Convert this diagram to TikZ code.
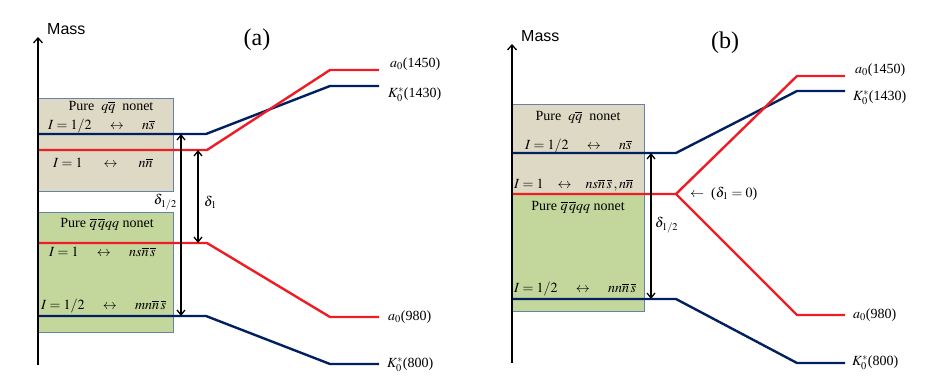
\documentclass[tikz,border=0pt]{standalone}
\usepackage{amsmath}
\usepackage{mathptmx}
\usepackage{fontspec}
\setmainfont{Liberation Serif}
\setsansfont{Liberation Sans}
\usetikzlibrary{positioning, arrows.meta}
\definecolor{navy}{RGB}{0,32,96}
\definecolor{redline}{RGB}{238,28,36}
\definecolor{tan}{RGB}{221,217,196}
\definecolor{leaf}{RGB}{195,214,155}
\definecolor{boxline}{RGB}{100,130,170}
\tikzset{
  qqbox/.style = {fill=tan},
  tetrabox/.style = {fill=leaf},
  frame/.style = {draw=boxline, line width=0.9pt},
  kline/.style = {draw=navy, line width=2.4pt},
  aline/.style = {draw=redline, line width=2.4pt},
  axis/.style = {draw, line width=1.3pt, -{Straight Barb[length=5pt,width=9pt]}},
  gap/.style = {draw, line width=1.3pt, {Straight Barb[length=5pt,width=8pt]}-{Straight Barb[length=5pt,width=8pt]}},
  txt/.style = {font=\fontsize{14}{16}\selectfont, inner sep=0pt},
  lbl/.style = {txt, anchor=west},
  mass/.style = {font=\sffamily\fontsize{16}{18}\selectfont, anchor=west, inner sep=0pt},
  panel/.style = {font=\fontsize{24}{26}\selectfont, inner sep=0pt}
}
\newcommand{\lr}{\hspace{1.3em}$\leftrightarrow$\hspace{1.3em}}
\begin{document}
\begin{tikzpicture}[x=1pt, y=-1pt]
  \useasboundingbox (0,0) rectangle (926,388);

  % ---------------- panel (a)
  \fill[qqbox] (38,98) rectangle (173,191);
  \fill[tetrabox] (38,212) rectangle (173,332);
  \draw[frame] (38,98) rectangle (173,191);
  \draw[frame] (38,212) rectangle (173,332);

  \node[txt] (a-pq) at (111,107) {Pure\ \ $q\overline{q}$\ \ nonet};
  \node[lbl] (a-kq) at (48,126) {$I=1/2$\lr$n\overline{s}$};
  \node[lbl] (a-aq) at (53,163) {$I=1$\hspace{1.5em}$\leftrightarrow$\hspace{1.5em}$n\overline{n}$};
  \node[txt] (a-pt) at (107,224) {Pure $\overline{q}\,\overline{q}qq$ nonet};
  \node[lbl] (a-at) at (49,252) {$I=1$\lr$ns\overline{n}\,\overline{s}$};
  \node[lbl] (a-kt) at (41,306) {$I=1/2$\lr$mn\overline{n}\,\overline{s}$};

  \coordinate (ka0) at (38,134);  \coordinate (ka1) at (206,134);
  \coordinate (ka2) at (330,86);  \coordinate (ka3) at (379,86);
  \coordinate (aa0) at (38,150);  \coordinate (aa1) at (207,150);
  \coordinate (aa2) at (330,70);  \coordinate (aa3) at (379,70);
  \coordinate (ab0) at (38,243);  \coordinate (ab1) at (207,243);
  \coordinate (ab2) at (330,317); \coordinate (ab3) at (379,317);
  \coordinate (kb0) at (38,316);  \coordinate (kb1) at (206,316);
  \coordinate (kb2) at (330,364); \coordinate (kb3) at (379,364);

  \draw[kline] (ka0) -- (ka1) -- (ka2) -- (ka3);
  \draw[aline] (aa0) -- (aa1) -- (aa2) -- (aa3);
  \draw[aline] (ab0) -- (ab1) -- (ab2) -- (ab3);
  \draw[kline] (kb0) -- (kb1) -- (kb2) -- (kb3);

  \coordinate (da0) at (181,134); \coordinate (da1) at (181,316);
  \coordinate (db0) at (198,150); \coordinate (db1) at (198,243);
  \draw[gap] (da0) -- (da1);
  \draw[gap] (db0) -- (db1);
  \node[txt, anchor=east] (a-dh) at (177,202) {$\delta_{1/2}$};
  \node[txt, anchor=west] (a-d1) at (204,202) {$\delta_{1}$};

  \node[lbl] (a-a1450) at (390,64) {$a_0$(1450)};
  \node[lbl] (a-k1430) at (388,95) {$K_0^*$(1430)};
  \node[lbl] (a-a980) at (388,317) {$a_0$(980)};
  \node[lbl] (a-k800) at (387,365) {$K_0^*$(800)};

  \coordinate (axa0) at (38,365); \coordinate (axa1) at (38,37);
  \draw[axis] (axa0) -- (axa1);
  \node[mass] (a-mass) at (47,29) {Mass};
  \node[panel] (a-tag) at (257,40) {(a)};

  % ---------------- panel (b)
  \fill[qqbox] (512,104) rectangle (644,194);
  \fill[tetrabox] (512,194) rectangle (644,311);
  \draw[frame] (512,104) rectangle (644,311);

  \node[txt] (b-pq) at (578,117) {Pure\ \ $q\overline{q}$\ \ nonet};
  \node[lbl] (b-kq) at (525,146) {$I=1/2$\lr$n\overline{s}$};
  \node[lbl] (b-aq) at (514,185) {$I=1$\hspace{1em}$\leftrightarrow$\hspace{1em}$ns\overline{n}\,\overline{s}\,,n\overline{n}$};
  \node[txt] (b-pt) at (578,207) {Pure $\overline{q}\,\overline{q}qq$ nonet};
  \node[lbl] (b-kt) at (514,289) {$I=1/2$\lr$nn\overline{n}\,\overline{s}$};

  \coordinate (kc0) at (512,153); \coordinate (kc1) at (676,153);
  \coordinate (kc2) at (797,91);  \coordinate (kc3) at (845,91);
  \coordinate (ac0) at (512,194); \coordinate (ac1) at (676,194);
  \coordinate (ac2) at (797,76);  \coordinate (ac3) at (845,76);
  \coordinate (ad2) at (797,315); \coordinate (ad3) at (845,315);
  \coordinate (kd0) at (512,299); \coordinate (kd1) at (676,299);
  \coordinate (kd2) at (797,363); \coordinate (kd3) at (845,363);

  \draw[kline] (kc0) -- (kc1) -- (kc2) -- (kc3);
  \draw[aline] (ac0) -- (ac1) -- (ac2) -- (ac3);
  \draw[aline] (ac1) -- (ad2) -- (ad3);
  \draw[kline] (kd0) -- (kd1) -- (kd2) -- (kd3);

  \coordinate (dc0) at (651,153); \coordinate (dc1) at (651,299);
  \draw[gap] (dc0) -- (dc1);
  \node[txt, anchor=west] (b-dh) at (655,225) {$\delta_{1/2}$};
  \node[lbl] (b-d1) at (690,194) {$\leftarrow$\ \ ($\delta_1=0$)};

  \node[lbl] (b-a1450) at (855,70) {$a_0$(1450)};
  \node[lbl] (b-k1430) at (853,98) {$K_0^*$(1430)};
  \node[lbl] (b-a980) at (853,315) {$a_0$(980)};
  \node[lbl] (b-k800) at (852,363) {$K_0^*$(800)};

  \coordinate (axb0) at (512,363); \coordinate (axb1) at (512,44);
  \draw[axis] (axb0) -- (axb1);
  \node[mass] (b-mass) at (521,36) {Mass};
  \node[panel] (b-tag) at (725,43) {(b)};
\end{tikzpicture}
\end{document}
